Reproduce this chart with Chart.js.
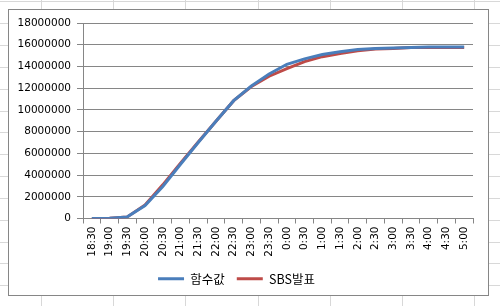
<!DOCTYPE html>
<html>
<head>
<meta charset="utf-8">
<script src="https://cdn.jsdelivr.net/npm/chart.js@4"></script>
<style>
  body { margin: 0; background: #fff; }
  #wrap { position: absolute; left: 0; top: 0; width: 500px; height: 306px; }
</style>
</head>
<body>
<div id="wrap"><canvas id="myChart" width="500" height="306"></canvas></div>
<script>
// time slots
let labels = ["18:30", "19:00", "19:30", "20:00", "20:30", "21:00", "21:30", "22:00", "22:30", "23:00", "23:30",
    "0:00", "0:30", "1:00", "1:30", "2:00", "2:30", "3:00", "3:30", "4:00", "4:30", "5:00"];

// 함수값
let funcValues = [0, 20000, 150000, 1200000, 2950000, 5000000, 7000000, 8950000, 10850000, 12200000, 13300000,
    14200000, 14700000, 15100000, 15350000, 15550000, 15650000, 15700000, 15750000, 15800000, 15800000, 15800000];

// SBS발표
let sbsValues = [0, 20000, 150000, 1250000, 3100000, 5100000, 7050000, 8950000, 10850000, 12150000, 13100000,
    13800000, 14450000, 14900000, 15200000, 15450000, 15600000, 15650000, 15750000, 15750000, 15750000, 15750000];

let yTicks = [0, 2000000, 4000000, 6000000, 8000000, 10000000, 12000000, 14000000, 16000000, 18000000];

let gridColor = "#868686";
let font = "'DejaVu Sans', 'Noto Sans CJK KR', sans-serif";

// spreadsheet cells + chart box behind the chart
let sheetBackground = {
    id: "sheetBackground",
    beforeDraw: function (chart) {
        let c = chart.ctx;
        c.save();
        c.fillStyle = "#fff";
        c.fillRect(0, 0, chart.width, chart.height);
        c.strokeStyle = "#d8d8d8";
        c.lineWidth = 1;
        c.beginPath();
        for (let x = 41; x < chart.width; x += 72.2) {
            c.moveTo(Math.round(x) + 0.5, 0);
            c.lineTo(Math.round(x) + 0.5, chart.height);
        }
        for (let y = 1.3; y < chart.height; y += 21.85) {
            c.moveTo(0, Math.round(y) + 0.5);
            c.lineTo(chart.width, Math.round(y) + 0.5);
        }
        c.stroke();
        c.fillStyle = "#fff";
        c.fillRect(8, 9, 480, 286);
        c.strokeStyle = gridColor;
        c.strokeRect(8.5, 9.5, 480, 286);
        c.restore();
    }
};

const ctx = document.getElementById("myChart");

new Chart(ctx, {
    type: "line",
    data: {
        labels: labels,
        datasets: [{
            label: "함수값",
            data: funcValues,
            borderColor: "#4a7ebb",
            backgroundColor: "#4a7ebb",
            borderWidth: 3,
            pointRadius: 0,
            tension: 0
        }, {
            label: "SBS발표",
            data: sbsValues,
            borderColor: "#be4b48",
            backgroundColor: "#be4b48",
            borderWidth: 3,
            pointRadius: 0,
            tension: 0
        }]
    },
    options: {
        responsive: false,
        animation: false,
        layout: {
            padding: { top: 23, right: 27, bottom: 11, left: 0 }
        },
        plugins: {
            tooltip: { enabled: false },
            legend: {
                position: "bottom",
                labels: {
                    usePointStyle: true,
                    pointStyle: "line",
                    pointStyleWidth: 26,
                    padding: 12,
                    color: "#000",
                    font: { family: "'Noto Sans CJK KR', sans-serif", size: 12.5 }
                }
            }
        },
        scales: {
            x: {
                offset: true,
                grid: {
                    offset: true,
                    drawOnChartArea: false,
                    drawTicks: true,
                    tickLength: 5,
                    color: gridColor
                },
                border: { color: gridColor },
                ticks: {
                    autoSkip: false,
                    minRotation: 90,
                    maxRotation: 90,
                    padding: 3,
                    color: "#000",
                    font: { family: font, size: 10.5 }
                },
                afterFit: function (scale) {
                    scale.height = 42;
                }
            },
            y: {
                min: 0,
                max: 18000000,
                grid: {
                    color: gridColor,
                    tickLength: 6
                },
                border: { color: gridColor },
                afterBuildTicks: function (scale) {
                    scale.ticks = yTicks.map(function (v) { return { value: v }; });
                },
                ticks: {
                    padding: 6,
                    color: "#000",
                    font: { family: font, size: 10.5 },
                    callback: function (value) {
                        return String(value);
                    }
                },
                afterFit: function (scale) {
                    scale.width = 83;
                }
            }
        }
    },
    plugins: [sheetBackground]
});
</script>
</body>
</html>
